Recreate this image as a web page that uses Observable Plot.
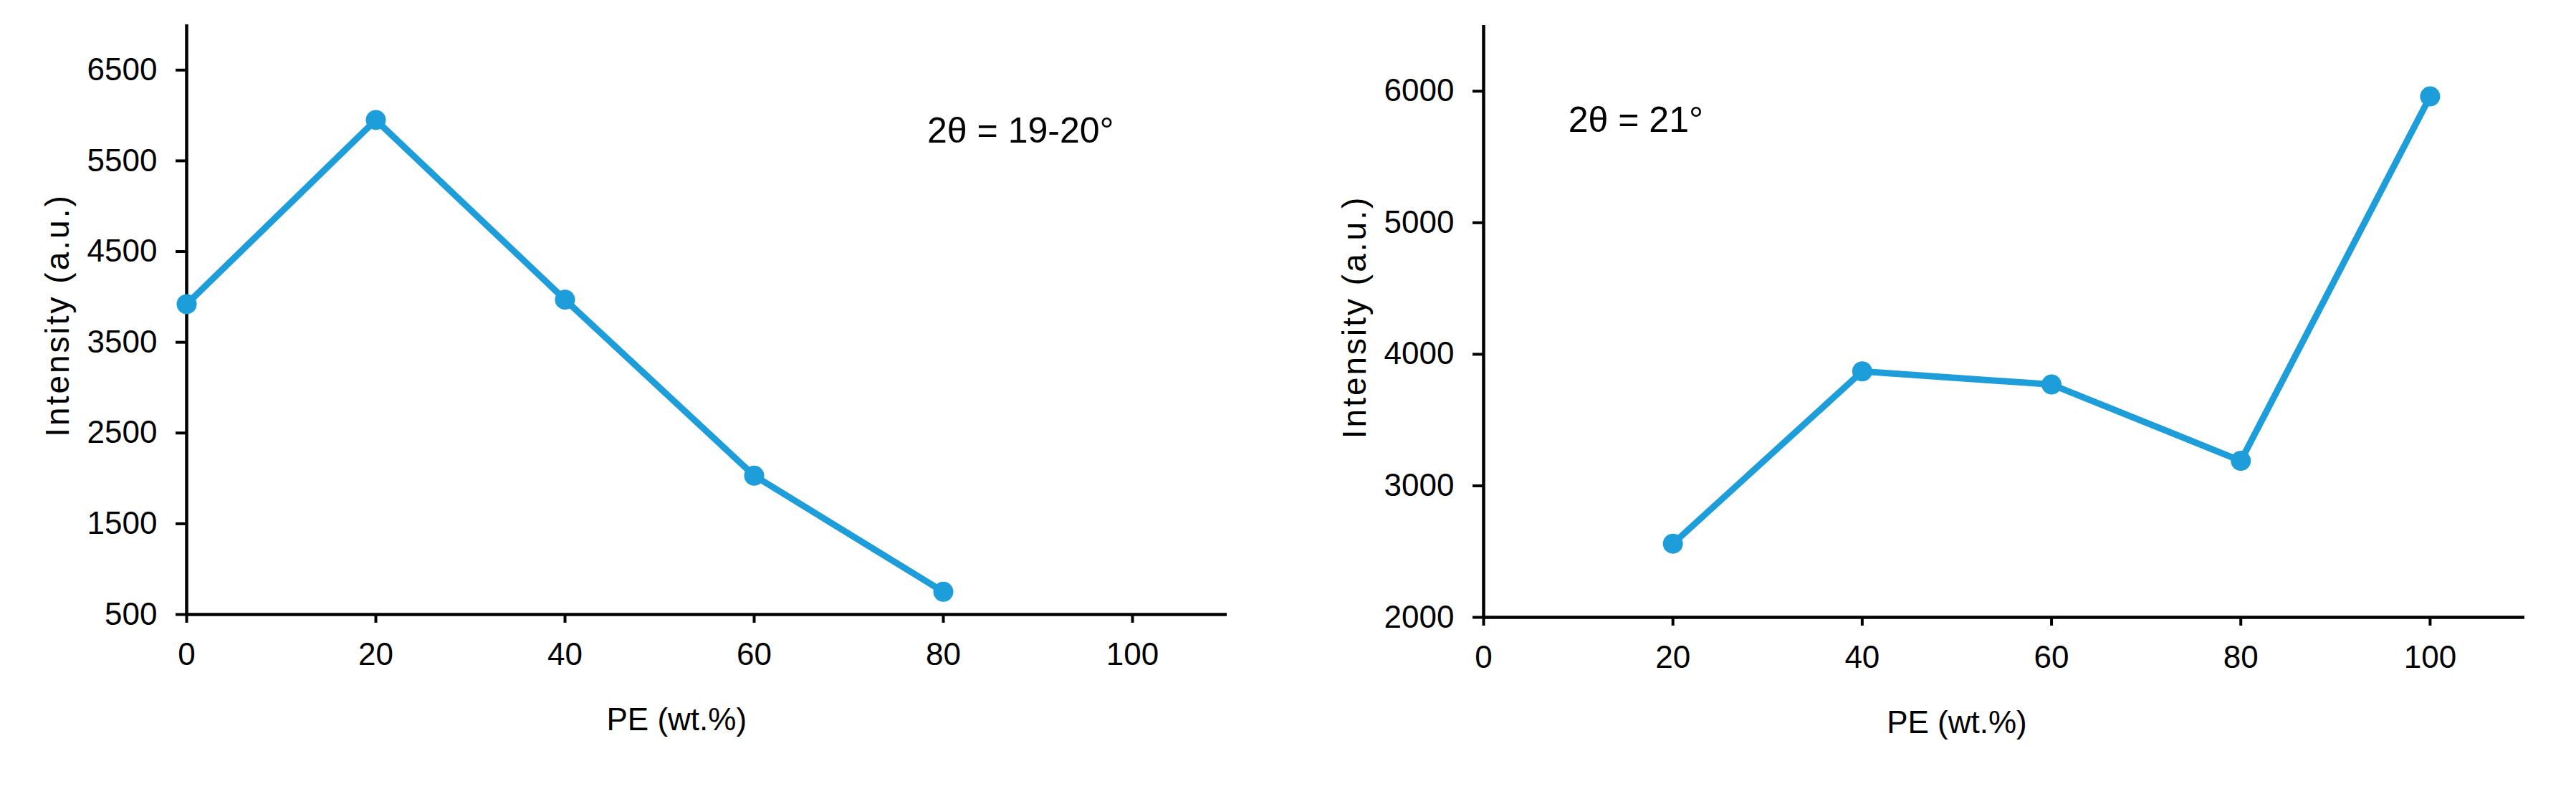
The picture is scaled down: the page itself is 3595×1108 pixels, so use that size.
<!DOCTYPE html>
<html>
<head>
<meta charset="utf-8">
<script src="https://cdn.jsdelivr.net/npm/d3@7"></script>
<script src="https://cdn.jsdelivr.net/npm/@observablehq/plot@0.6"></script>
<style>
  html, body { margin: 0; padding: 0; background: #fff; }
  #wrap { position: relative; width: 3595px; height: 1108px; display: flex; }
  #wrap svg { display: block; }
</style>
</head>
<body>
<div id="wrap"><div id="left"></div><div id="right"></div></div>
<script>
// ---- data ----
const xTicks = [0, 20, 40, 60, 80, 100];
const peLeft = [0, 20, 40, 60, 80];
const intensityLeft = [3920, 5950, 3970, 2030, 750];
const yTicksLeft = [500, 1500, 2500, 3500, 4500, 5500, 6500];
const peRight = [20, 40, 60, 80, 100];
const intensityRight = [2560, 3870, 3770, 3190, 5960];
const yTicksRight = [2000, 3000, 4000, 5000, 6000];
const xLabel = "PE (wt.%)";
const yLabel = "Intensity (a.u.)";
const noteLeft = "2θ = 19-20°";
const noteRight = "2θ = 21°";

const blue = "#1d9dd9";
const font = "'Liberation Sans', Arial, Helvetica, sans-serif";

function chart({pe, intensity, yTicks, yDomain, note, noteX, noteY, labelX, width, marginLeft, marginRight, marginTop, marginBottom}) {
  const data = pe.map((p, i) => ({pe: p, v: intensity[i]}));
  const svg = Plot.plot({
    width, height: 1108,
    marginLeft, marginRight, marginTop, marginBottom,
    style: {fontFamily: font, fontSize: "44px", color: "black", background: "white", overflow: "visible"},
    x: {domain: [0, 110]},
    y: {domain: yDomain},
    marks: [
      Plot.axisX({ticks: xTicks, tickSize: 12, tickPadding: 27, tickFormat: d => String(d), label: null, strokeWidth: 4, fontSize: 44}),
      Plot.axisY({ticks: yTicks, tickSize: 15, tickPadding: 26, tickFormat: d => String(d), label: null, strokeWidth: 4, fontSize: 44}),
      Plot.ruleX([0], {strokeWidth: 4.5, stroke: "black"}),
      Plot.ruleY([yDomain[0]], {strokeWidth: 4.5, stroke: "black"}),
      Plot.line(data, {x: "pe", y: "v", stroke: blue, strokeWidth: 9}),
      Plot.dot(data, {x: "pe", y: "v", r: 14, fill: blue}),
      Plot.text([note], {x: () => noteX, y: () => noteY, text: d => d, textAnchor: "start", lineAnchor: "middle", fontSize: 50}),
      Plot.text([xLabel], {x: () => labelX, frameAnchor: "bottom", text: d => d, dy: 147, textAnchor: "middle", lineAnchor: "middle", fontSize: 44}),
      Plot.text([yLabel], {frameAnchor: "left", text: d => d, dx: -179, dy: -6, rotate: -90, textAnchor: "middle", lineAnchor: "middle", fontSize: 46})
    ]
  });
  svg.querySelectorAll("text").forEach(t => {
    if (t.textContent === yLabel) t.setAttribute("letter-spacing", "3");
  });
  return svg;
}

document.getElementById("left").appendChild(chart({
  pe: peLeft, intensity: intensityLeft, yTicks: yTicksLeft, yDomain: [500, 7000],
  note: noteLeft, noteX: 78.3, noteY: 5830, labelX: 51.8,
  width: 1800, marginLeft: 260, marginRight: 88, marginTop: 34, marginBottom: 251
}));
document.getElementById("right").appendChild(chart({
  pe: peRight, intensity: intensityRight, yTicks: yTicksRight, yDomain: [2000, 6500],
  note: noteRight, noteX: 8.95, noteY: 5780, labelX: 50,
  width: 1795, marginLeft: 270, marginRight: 72, marginTop: 35, marginBottom: 247
}));
</script>
</body>
</html>
